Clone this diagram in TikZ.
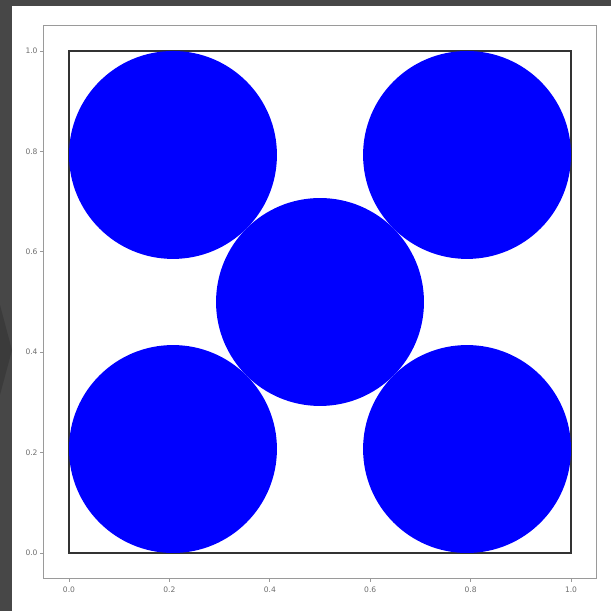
\documentclass[tikz,border=0pt]{standalone}
\usepackage{fontspec}
\setmainfont{DejaVu Sans}

\begin{document}
\begin{tikzpicture}[x=10.04cm,y=10.04cm]
  % Slide behind the plot, then the plot panel.
  \definecolor{slide}{HTML}{474747}
  \definecolor{chevron}{HTML}{3B3B3B}
  \definecolor{frame}{HTML}{9A9A9A}
  \definecolor{ticktext}{HTML}{6E6E6E}
  \definecolor{disc}{HTML}{0000FF}
  \useasboundingbox (-0.13745,-0.11554) rectangle (1.07968,1.10159);
  \fill[slide] (-0.13745,-0.11554) rectangle (1.07968,1.10159);
  \fill[chevron] (-0.13745,0.494) -- (-0.11355,0.404) -- (-0.13745,0.315) -- cycle;
  \fill[white] (-0.11355,-0.11554) rectangle (1.07968,1.08964);

  % Axes frame with ticks at every 0.2.
  \tikzset{ticklabel/.style={text=ticktext, font=\fontsize{4.3}{5}\selectfont, inner sep=0pt}}
  \draw[frame,line width=0.5pt] (-0.05,-0.05) rectangle (1.05,1.05);
  \foreach \t/\lab [count=\i] in {0/0.0,0.2/0.2,0.4/0.4,0.6/0.6,0.8/0.8,1/1.0} {
    \draw[frame,line width=0.4pt] (\t,-0.05) -- (\t,-0.057);
    \node[ticklabel] (xl\i) at (\t,-0.074) {\lab};
    \draw[frame,line width=0.4pt] (-0.05,\t) -- (-0.057,\t);
    \node[ticklabel,anchor=east] (yl\i) at (-0.062,\t) {\lab};
  }

  % Unit square and five touching discs.
  \draw[black!80,line width=1pt] (0,0) rectangle (1,1);
  \def\r{0.20711}
  \foreach \cx/\cy in {\r/\r, \r/1-\r, 1-\r/\r, 1-\r/1-\r, 0.5/0.5}
    \fill[disc] ({\cx},{\cy}) circle (\r);
\end{tikzpicture}
\end{document}
